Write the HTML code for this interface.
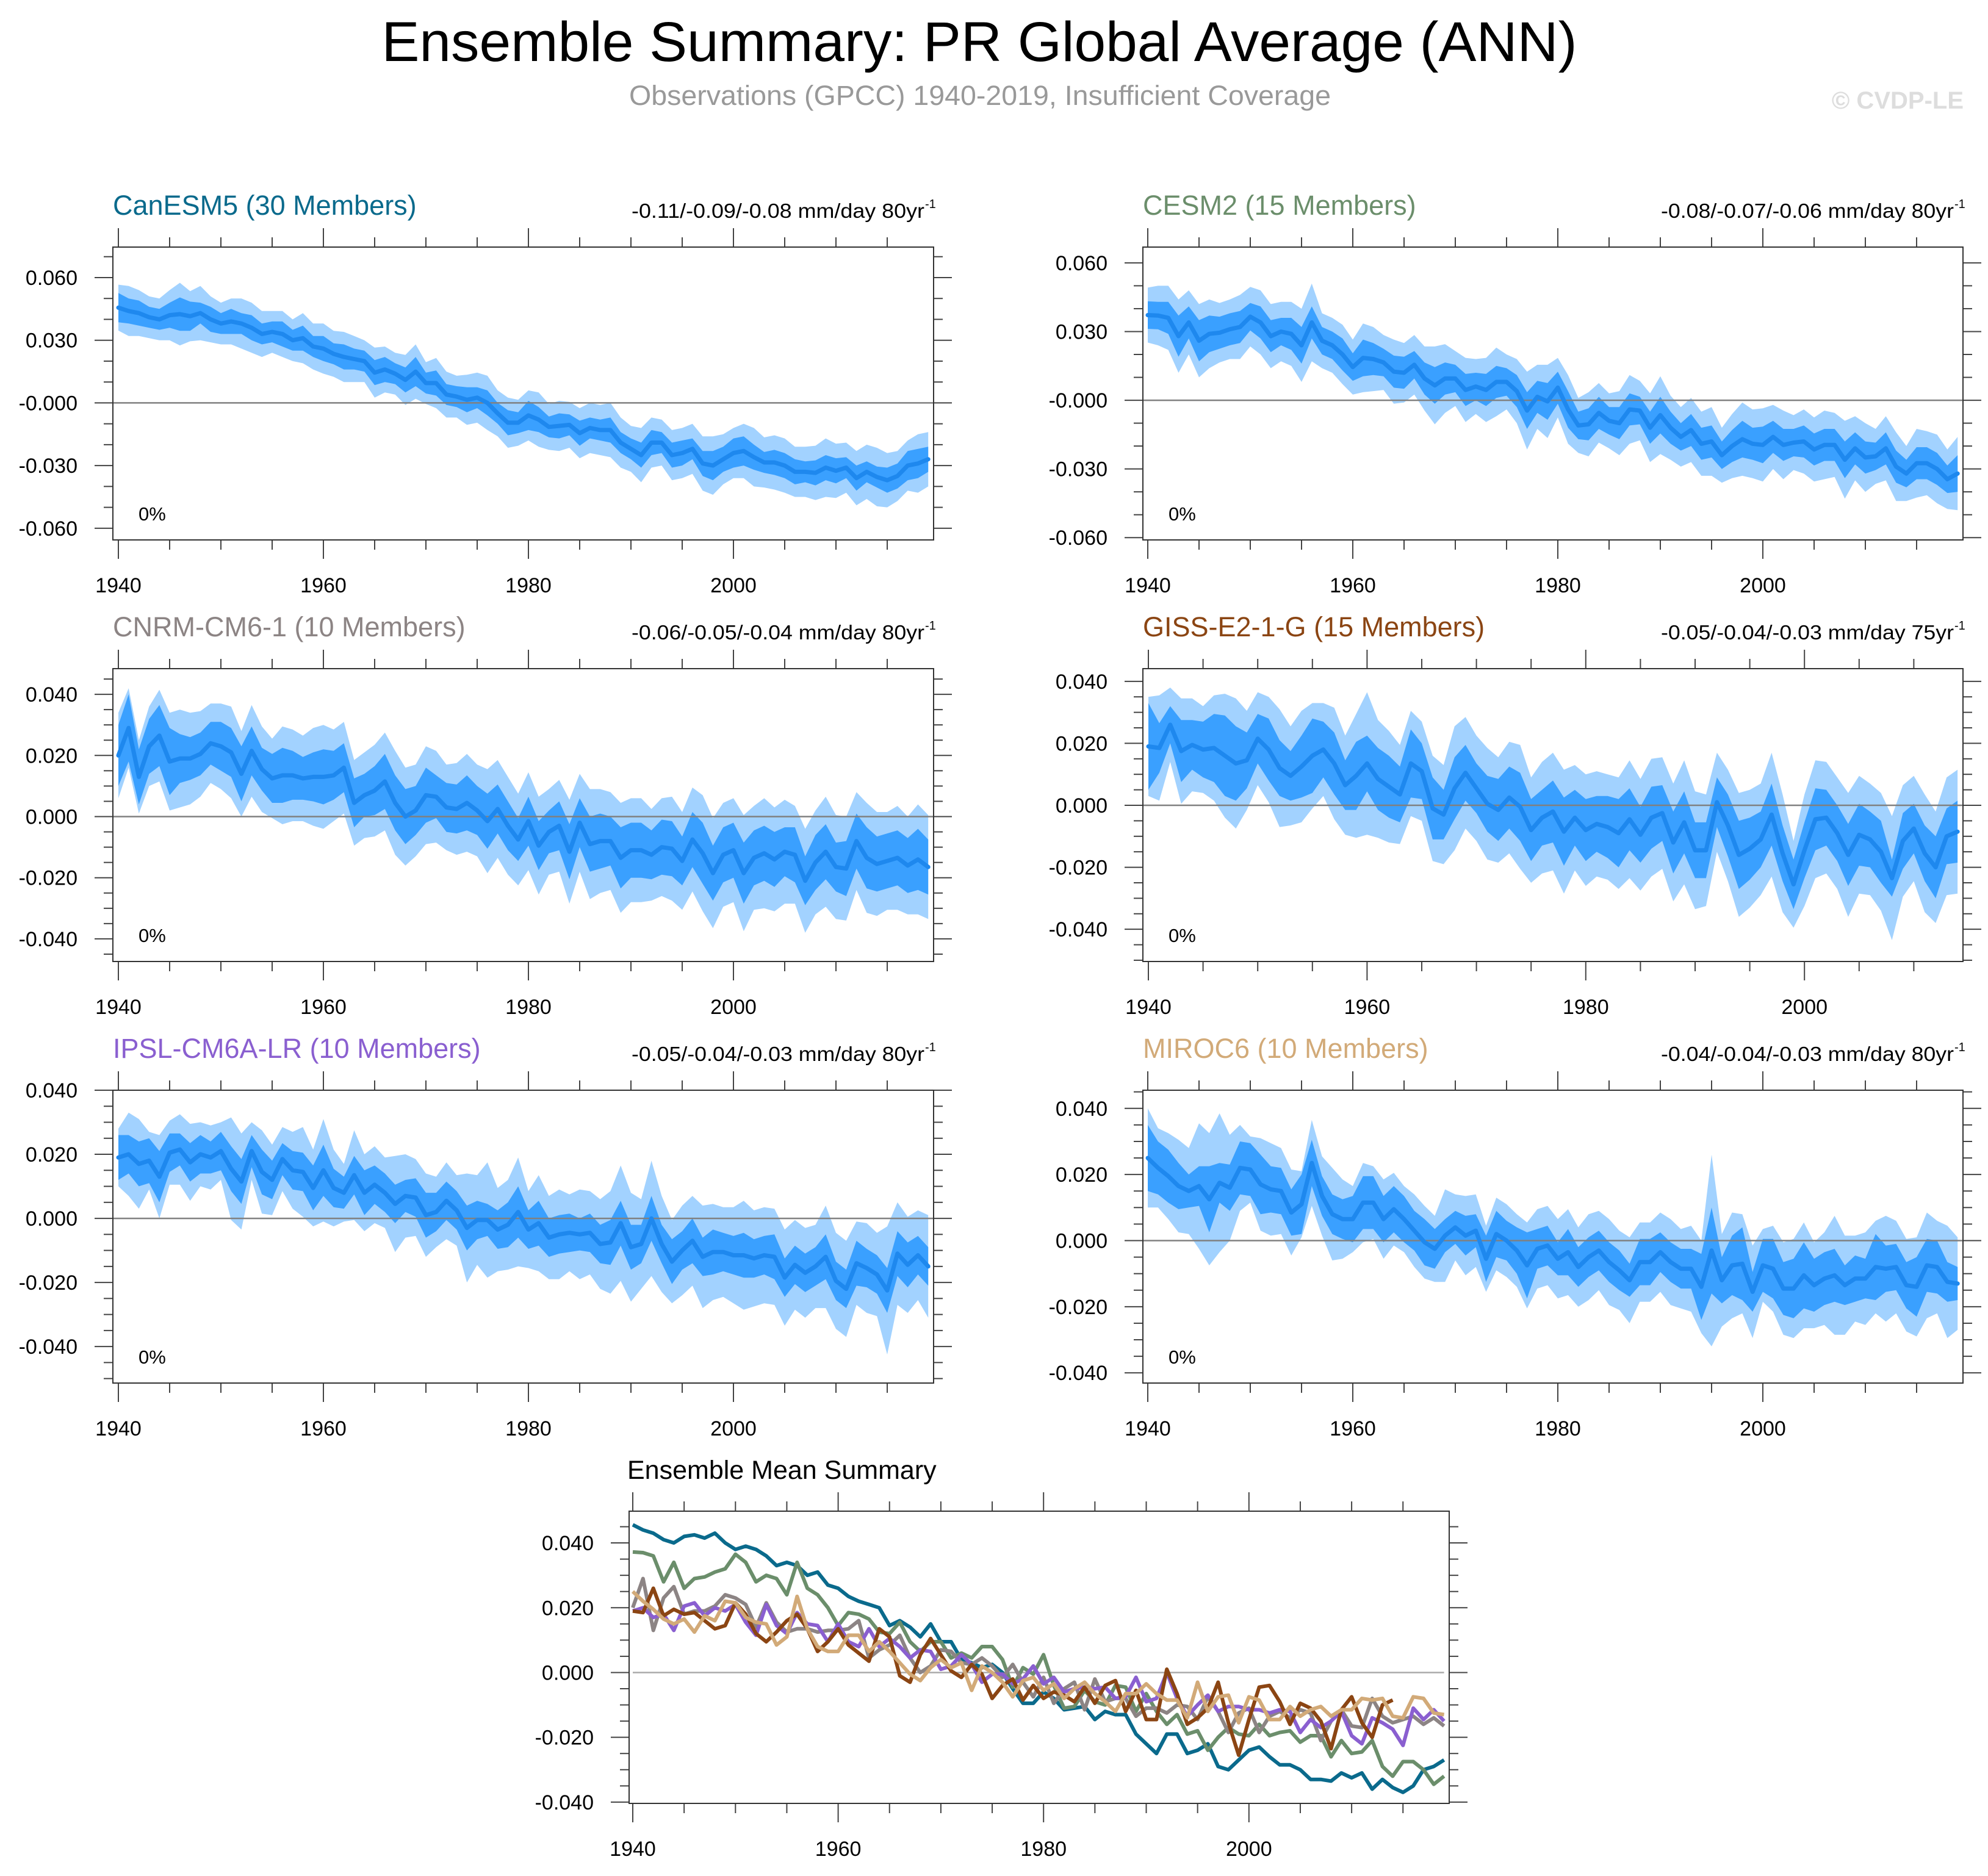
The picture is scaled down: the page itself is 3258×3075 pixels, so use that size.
<!DOCTYPE html>
<html><head><meta charset="utf-8"><style>
html,body{margin:0;padding:0;background:#fff;}
svg{display:block;font-family:"Liberation Sans",Arial,sans-serif;}
</style></head><body>
<svg id="fig" xmlns="http://www.w3.org/2000/svg" width="3258" height="3075" viewBox="0 0 3258 3075">
<rect width="3258" height="3075" fill="#fff"/>
<text x="1605" y="100" font-size="92" text-anchor="middle" textLength="1959" lengthAdjust="spacingAndGlyphs" fill="#000">Ensemble Summary: PR Global Average (ANN)</text>
<text x="1606" y="172" font-size="45" text-anchor="middle" textLength="1150" lengthAdjust="spacingAndGlyphs" fill="#999">Observations (GPCC) 1940-2019, Insufficient Coverage</text>
<text x="3218" y="178" font-size="40" font-weight="bold" text-anchor="end" fill="#ddd">© CVDP-LE</text>
<g id="panels"></g>
</svg>
<script>
// ---- data (mm/day anomalies), years start 1940 ----
const canMean=[0.0456,0.044,0.043,0.041,0.040,0.042,0.0425,0.0415,0.043,0.040,0.038,0.039,0.038,0.036,0.033,0.034,0.033,0.030,0.031,0.027,0.026,0.0235,0.022,0.021,0.020,0.0145,0.016,0.014,0.011,0.015,0.0095,0.0095,0.004,0.003,0.0015,0.0025,0.0,-0.005,-0.0095,-0.0095,-0.006,-0.008,-0.0115,-0.011,-0.0105,-0.0145,-0.012,-0.013,-0.013,-0.019,-0.022,-0.025,-0.019,-0.019,-0.025,-0.024,-0.022,-0.029,-0.030,-0.027,-0.024,-0.023,-0.026,-0.0285,-0.0285,-0.030,-0.033,-0.033,-0.0335,-0.031,-0.0325,-0.031,-0.036,-0.033,-0.0355,-0.037,-0.035,-0.030,-0.029,-0.027];
const canInner=[7,6,6,5,5,6,8,7,5,6,5,6,5,6,5,5,6,5,6,5,6,5,6,5,5,6,6,5,6,7,5,6,5,5,6,5,6,5,6,5,7,6,5,6,5,6,5,5,6,5,5,6,6,5,6,6,5,6,7,6,7,7,6,5,6,6,6,5,6,6,6,5,6,5,5,6,6,7,7,6];
const canOuter=[11,12,11,10,10,12,15,12,13,11,10,11,12,12,11,10,11,10,12,11,12,11,12,11,10,12,11,10,12,13,10,12,11,10,12,12,13,11,12,11,12,13,11,12,11,12,12,12,13,12,11,13,12,11,12,12,12,13,14,12,12,13,14,12,13,13,12,12,13,14,13,12,13,13,14,13,12,12,14,13];
const cesMean=[0.0372,0.037,0.036,0.028,0.034,0.026,0.029,0.0295,0.031,0.032,0.0365,0.034,0.028,0.030,0.029,0.024,0.034,0.026,0.024,0.020,0.0145,0.0185,0.018,0.0165,0.0125,0.012,0.0155,0.0095,0.0065,0.0095,0.0095,0.0045,0.006,0.0045,0.008,0.008,0.004,-0.0045,0.0015,-0.0005,0.0055,-0.004,-0.011,-0.0105,-0.0055,-0.009,-0.010,-0.004,-0.0045,-0.012,-0.0065,-0.012,-0.016,-0.013,-0.019,-0.018,-0.024,-0.020,-0.017,-0.019,-0.0195,-0.016,-0.0195,-0.0185,-0.018,-0.0215,-0.0195,-0.0195,-0.026,-0.021,-0.025,-0.0245,-0.021,-0.029,-0.032,-0.0275,-0.0275,-0.030,-0.0345,-0.032];
const cesInner=[6,6,7,9,7,9,8,7,7,7,6,7,7,6,7,8,7,6,6,7,6,8,7,6,7,7,6,7,8,7,6,7,6,7,7,6,7,8,7,8,7,8,6,7,7,6,7,7,6,7,8,7,6,7,7,7,6,7,8,7,8,7,7,6,7,7,7,7,8,7,7,6,7,7,6,7,7,7,6,8];
const cesOuter=[12,13,14,16,14,16,15,13,13,14,13,14,14,13,14,16,17,12,12,13,12,15,14,12,14,13,13,14,17,15,12,14,12,14,15,12,14,17,14,16,13,15,12,14,13,12,14,15,13,15,17,14,13,14,14,15,12,14,16,15,16,14,15,12,14,14,15,14,17,14,15,12,14,15,12,15,14,15,13,16];
const cnrMean=[0.020,0.029,0.013,0.023,0.0265,0.018,0.019,0.019,0.0205,0.024,0.023,0.021,0.014,0.0215,0.0155,0.0125,0.0135,0.0135,0.0125,0.013,0.013,0.0135,0.016,0.0045,0.007,0.0085,0.0115,0.0045,0.0,0.002,0.007,0.0065,0.003,0.0025,0.0045,0.002,-0.0015,0.0025,-0.003,-0.0075,-0.0015,-0.0095,-0.005,-0.003,-0.0115,-0.002,-0.009,-0.008,-0.008,-0.0135,-0.011,-0.011,-0.0125,-0.010,-0.0105,-0.0145,-0.0075,-0.012,-0.0185,-0.0125,-0.011,-0.0185,-0.0135,-0.012,-0.014,-0.0115,-0.0125,-0.021,-0.015,-0.0115,-0.0165,-0.017,-0.008,-0.0135,-0.0155,-0.0145,-0.0135,-0.016,-0.014,-0.0165];
const cnrInner=[10,11,9,9,10,11,8,7,7,7,8,8,9,8,7,8,9,8,7,8,9,8,8,8,7,8,9,9,9,8,9,7,8,8,9,8,9,8,8,7,8,8,7,8,9,8,9,9,8,10,9,9,8,9,9,8,9,10,9,9,9,10,9,9,9,8,9,8,9,9,8,9,9,10,9,9,9,9,10,9];
const cnrOuter=[14,13,12,13,15,16,16,15,14,13,14,15,14,15,14,13,16,15,14,16,17,15,15,14,14,15,16,17,16,15,16,15,14,15,16,15,17,16,16,15,16,16,14,15,17,16,18,17,16,18,17,17,15,16,17,16,17,19,18,17,17,19,17,18,17,17,16,17,17,18,17,17,16,18,17,16,17,16,18,17];
const gisMean=[0.019,0.0185,0.026,0.0175,0.0195,0.018,0.0185,0.016,0.0135,0.0145,0.0215,0.018,0.012,0.0095,0.0125,0.016,0.018,0.0135,0.0065,0.0095,0.0135,0.0085,0.006,0.0035,0.0135,0.011,-0.001,-0.003,0.0055,0.0105,0.0055,0.0005,-0.0015,0.0025,-0.0005,-0.008,-0.004,-0.002,-0.0085,-0.004,-0.008,-0.006,-0.007,-0.009,-0.0045,-0.0095,-0.004,-0.0025,-0.012,-0.0055,-0.0145,-0.0145,0.001,-0.0065,-0.016,-0.014,-0.011,-0.003,-0.0155,-0.0255,-0.0145,-0.0045,-0.004,-0.009,-0.016,-0.0095,-0.011,-0.015,-0.0235,-0.0115,-0.0075,-0.0155,-0.020,-0.010,-0.0085];
const gisInner=[14,8,6,10,8,9,11,13,12,9,8,10,9,8,10,12,9,10,8,11,9,10,10,9,11,9,10,8,10,9,8,9,10,10,11,10,9,10,11,9,10,9,10,11,10,9,10,9,10,10,9,9,8,10,11,10,9,10,9,8,9,10,9,9,10,10,9,10,6,9,8,9,10,9,10];
const gisOuter=[16,17,12,17,15,14,17,20,21,16,15,17,19,16,18,17,15,18,16,20,23,19,18,16,17,16,17,16,20,18,17,18,17,18,20,17,18,19,20,17,18,17,17,18,19,18,19,18,19,20,19,18,16,18,20,19,18,20,19,14,18,19,18,18,20,19,18,19,20,18,17,19,18,19,20];
const ipsMean=[0.019,0.020,0.017,0.018,0.013,0.0205,0.0215,0.0175,0.020,0.019,0.021,0.0155,0.0115,0.021,0.0145,0.012,0.0185,0.015,0.0145,0.0095,0.015,0.0095,0.008,0.0135,0.008,0.0105,0.008,0.0045,0.007,0.0065,0.001,0.002,0.0055,0.0025,-0.003,-0.0005,-0.0005,-0.0035,-0.002,0.002,-0.0035,-0.0015,-0.006,-0.005,-0.0045,-0.005,-0.0045,-0.008,-0.0075,-0.0015,-0.009,-0.008,0.0,-0.008,-0.0135,-0.010,-0.007,-0.012,-0.0105,-0.0105,-0.0115,-0.0115,-0.0125,-0.0115,-0.012,-0.0185,-0.0145,-0.017,-0.015,-0.012,-0.0195,-0.022,-0.014,-0.0155,-0.0175,-0.0225,-0.011,-0.0145,-0.0115,-0.015];
const ipsInner=[7,6,7,7,8,6,5,6,6,5,6,7,7,5,7,6,5,6,6,7,8,6,5,6,7,6,6,6,5,6,7,6,6,6,7,6,5,6,7,8,6,7,6,6,6,5,6,6,7,7,7,6,7,6,7,6,7,6,7,6,6,7,6,6,7,6,6,6,6,7,6,6,7,6,6,7,7,7,6,6];
const ipsOuter=[9,13,14,9,13,10,11,12,10,10,9,16,15,9,13,11,10,12,14,12,16,12,9,14,12,12,11,15,13,12,13,11,12,11,17,14,18,13,14,17,12,15,13,14,12,14,13,14,16,18,17,14,18,15,13,14,14,16,15,14,15,17,15,15,15,15,14,14,13,16,15,15,13,14,13,20,16,15,14,16];
const mirMean=[0.025,0.022,0.0195,0.0165,0.015,0.0165,0.0125,0.0175,0.016,0.022,0.0215,0.017,0.0155,0.015,0.0085,0.011,0.0235,0.0135,0.008,0.0065,0.0065,0.0115,0.0115,0.0065,0.0095,0.0065,0.003,-0.0005,-0.0025,0.0015,0.004,0.0015,0.003,-0.0055,0.002,0.0,-0.003,-0.0075,-0.0025,-0.0015,-0.0055,-0.0035,-0.008,-0.005,-0.003,-0.0065,-0.009,-0.012,-0.0065,-0.0065,-0.0035,-0.0065,-0.0085,-0.0085,-0.014,-0.003,-0.012,-0.0075,-0.007,-0.0155,-0.0075,-0.0085,-0.0145,-0.0145,-0.0105,-0.0135,-0.0115,-0.0105,-0.0135,-0.0115,-0.0115,-0.008,-0.0085,-0.008,-0.0135,-0.014,-0.0075,-0.008,-0.0125,-0.013];
const mirInner=[10,8,8,7,5,6,10,6,7,8,8,9,7,7,7,9,7,6,6,6,7,8,8,7,7,7,6,7,6,5,5,6,5,7,7,6,7,10,6,6,5,7,6,6,6,6,6,5,7,7,6,6,6,6,10,13,7,9,11,6,8,9,8,9,10,8,8,8,6,7,6,10,7,7,7,9,8,8,6,5];
const mirOuter=[15,12,13,14,13,19,20,21,16,13,10,14,14,13,13,10,13,12,14,12,10,12,11,12,11,10,11,11,10,14,10,12,11,10,11,11,11,13,12,12,12,13,12,13,12,13,12,13,12,12,12,13,12,13,14,29,14,16,15,14,11,13,14,15,16,13,14,18,15,13,14,14,16,14,14,15,16,14,17,14];
// ---- axis tick labels ----
const yearLabels=["1940","1960","1980","2000"];
const ticks60=[0.06,0.03,0,-0.03,-0.06];
const ticks60Labels=["0.060","0.030","-0.000","-0.030","-0.060"];
const ticks40=[0.04,0.02,0,-0.02,-0.04];
const ticks40Labels=["0.040","0.020","0.000","-0.020","-0.040"];

const NS="http://www.w3.org/2000/svg";
const root=document.getElementById('panels');
function mk(tag,attrs,parent){const e=document.createElementNS(NS,tag);for(const k in attrs)e.setAttribute(k,attrs[k]);(parent||root).appendChild(e);return e;}

const panels=[
 {key:'canesm5',title:'CanESM5 (30 Members)',tcolor:'#0a6a8c',trend:'-0.11/-0.09/-0.08 mm/day 80yr',x0:185,x1:1530,y0:405,y1:885,ymin:-0.0656,ymax:0.0746,px1940:194,ppy:16.8,major:0.03,minor:0.01,ticks:ticks60,tl:ticks60Labels,mean:canMean,inner:canInner,outer:canOuter},
 {key:'cesm2',title:'CESM2 (15 Members)',tcolor:'#6b8e6b',trend:'-0.08/-0.07/-0.06 mm/day 80yr',x0:1873,x1:3217,y0:405,y1:885,ymin:-0.061,ymax:0.0669,px1940:1881,ppy:16.8,major:0.03,minor:0.01,ticks:ticks60,tl:ticks60Labels,mean:cesMean,inner:cesInner,outer:cesOuter},
 {key:'cnrm-cm6-1',title:'CNRM-CM6-1 (10 Members)',tcolor:'#8c8484',trend:'-0.06/-0.05/-0.04 mm/day 80yr',x0:185,x1:1530,y0:1096,y1:1576,ymin:-0.0474,ymax:0.0484,px1940:194,ppy:16.8,major:0.02,minor:0.005,ticks:ticks40,tl:ticks40Labels,mean:cnrMean,inner:cnrInner,outer:cnrOuter},
 {key:'giss-e2-1-g',title:'GISS-E2-1-G (15 Members)',tcolor:'#8b4513',trend:'-0.05/-0.04/-0.03 mm/day 75yr',x0:1873,x1:3217,y0:1096,y1:1576,ymin:-0.0504,ymax:0.0441,px1940:1882,ppy:17.92,major:0.02,minor:0.005,ticks:ticks40,tl:ticks40Labels,mean:gisMean,inner:gisInner,outer:gisOuter},
 {key:'ipsl-cm6a-lr',title:'IPSL-CM6A-LR (10 Members)',tcolor:'#8a5fd0',trend:'-0.05/-0.04/-0.03 mm/day 80yr',x0:185,x1:1530,y0:1787,y1:2267,ymin:-0.0514,ymax:0.0400,px1940:194,ppy:16.8,major:0.02,minor:0.005,ticks:ticks40,tl:ticks40Labels,mean:ipsMean,inner:ipsInner,outer:ipsOuter},
 {key:'miroc6',title:'MIROC6 (10 Members)',tcolor:'#d2aa78',trend:'-0.04/-0.04/-0.03 mm/day 80yr',x0:1873,x1:3217,y0:1787,y1:2267,ymin:-0.0431,ymax:0.0455,px1940:1881,ppy:16.8,major:0.02,minor:0.005,ticks:ticks40,tl:ticks40Labels,mean:mirMean,inner:mirInner,outer:mirOuter}
];

function axes(p,g){
 const ys=v=>p.y1-(v-p.ymin)/(p.ymax-p.ymin)*(p.y1-p.y0);
 const xs=yr=>p.px1940+(yr-1940)*p.ppy;
 p.ys=ys;p.xs=xs;
 const ax=mk('g',{},g);
 
 
 let lastYear=1940+Math.floor((p.x1-p.px1940)/p.ppy);
 for(let yr=1940;yr<=lastYear;yr+=5){
  const x=xs(yr),isMaj=(yr%20===0),L=isMaj?31:16;
  mk('line',{x1:x,x2:x,y1:p.y0,y2:p.y0-L,stroke:'#444','stroke-width':2},ax);
  mk('line',{x1:x,x2:x,y1:p.y1,y2:p.y1+L,stroke:'#444','stroke-width':2},ax);
 }
 yearLabels.forEach(l=>{const t=mk('text',{x:xs(+l),y:p.y1+86,'font-size':34,'text-anchor':'middle',fill:'#000'},ax);t.textContent=l;
  
  });
 const start=Math.ceil(p.ymin/p.minor-1e-6),end=Math.floor(p.ymax/p.minor+1e-6);
 for(let i=start;i<=end;i++){
  const v=i*p.minor,y=ys(v);
  const isMaj=Math.abs(v/p.major-Math.round(v/p.major))<1e-6,L=isMaj?30:15;
  mk('line',{x1:p.x0,x2:p.x0-L,y1:y,y2:y,stroke:'#444','stroke-width':2},ax);
  mk('line',{x1:p.x1,x2:p.x1+L,y1:y,y2:y,stroke:'#444','stroke-width':2},ax);
 }
 p.ticks.forEach((v,i)=>{const t=mk('text',{x:p.x0-58,y:ys(v)+12,'font-size':34,'text-anchor':'end',fill:'#000'},ax);t.textContent=p.tl[i];
  
  });
}

panels.forEach(p=>{
 const g=mk('g',{});
 
 
 axes(p,g);
 const cid='clip-'+p.key;
 const cp=mk('clipPath',{id:cid},g);mk('rect',{x:p.x0,y:p.y0,width:p.x1-p.x0,height:p.y1-p.y0},cp);
 const plot=mk('g',{'clip-path':'url(#'+cid+')'},g);
 const pts=(off,sign)=>p.mean.map((m,i)=>p.xs(1940+i).toFixed(1)+','+p.ys(m+sign*off[i]/1000).toFixed(1));
 const outerPoly=pts(p.outer,1).concat(pts(p.outer,-1).reverse()).join(' ');
 const innerPoly=pts(p.inner,1).concat(pts(p.inner,-1).reverse()).join(' ');
 const o=mk('polygon',{points:outerPoly,fill:'#a2d2ff'},plot);
 
 
 const inn=mk('polygon',{points:innerPoly,fill:'#3aa0ff'},plot);
 
 
 const z=mk('line',{x1:p.x0,x2:p.x1,y1:p.ys(0),y2:p.ys(0),stroke:'#808080','stroke-width':2.5},plot);
 
 
 const ml=mk('polyline',{points:p.mean.map((m,i)=>p.xs(1940+i).toFixed(1)+','+p.ys(m).toFixed(1)).join(' '),fill:'none',stroke:'#1e88ee','stroke-width':7,'stroke-linejoin':'round','stroke-linecap':'round'},plot);
 
 
 const fr=mk('rect',{x:p.x0,y:p.y0,width:p.x1-p.x0,height:p.y1-p.y0,fill:'none',stroke:'#333','stroke-width':2},g);
 
 
 const t=mk('text',{x:p.x0,y:p.y0-53,'font-size':45,fill:p.tcolor},g);t.textContent=p.title;
 
 
 const tr=mk('text',{x:p.x1-15,y:p.y0-48,'font-size':33,'text-anchor':'end',textLength:480,lengthAdjust:'spacingAndGlyphs',fill:'#000'},g);tr.textContent=p.trend;
 
 
 const sup=mk('text',{x:p.x1-14,y:p.y0-64,'font-size':20,'text-anchor':'start',fill:'#000'},g);sup.textContent='-1';
 
 
 const pc=mk('text',{x:p.x0+42,y:p.y1-32,'font-size':31,fill:'#000'},g);pc.textContent='0%';
 
 
});

// ---- bottom summary panel ----
const sp={key:'ensemble-mean-summary',x0:1031,x1:2375,y0:2477,y1:2956,ymin:-0.0404,ymax:0.0498,px1940:1037,ppy:16.83,major:0.02,minor:0.005,ticks:ticks40,tl:ticks40Labels};
const sg=mk('g',{});


axes(sp,sg);
const scp=mk('clipPath',{id:'clip-sum'},sg);
mk('rect',{x:sp.x0,y:sp.y0,width:sp.x1-sp.x0,height:sp.y1-sp.y0},scp);
const splot=mk('g',{'clip-path':'url(#clip-sum)'},sg);
const sz=mk('line',{x1:sp.xs(1940),x2:sp.xs(2019),y1:sp.ys(0),y2:sp.ys(0),stroke:'#aaa','stroke-width':2.5},splot);


[panels[0],panels[1],panels[2],panels[4],panels[3],panels[5]].forEach(p=>{
 const l=mk('polyline',{points:p.mean.map((m,i)=>sp.xs(1940+i).toFixed(1)+','+sp.ys(m).toFixed(1)).join(' '),fill:'none',stroke:p.tcolor,'stroke-width':6,'stroke-linejoin':'round'},splot);
 
 
});
const sf=mk('rect',{x:sp.x0,y:sp.y0,width:sp.x1-sp.x0,height:sp.y1-sp.y0,fill:'none',stroke:'#333','stroke-width':2},sg);


const st=mk('text',{x:1028,y:2424,'font-size':43,fill:'#000'},sg);st.textContent='Ensemble Mean Summary';


</script>
</body></html>
